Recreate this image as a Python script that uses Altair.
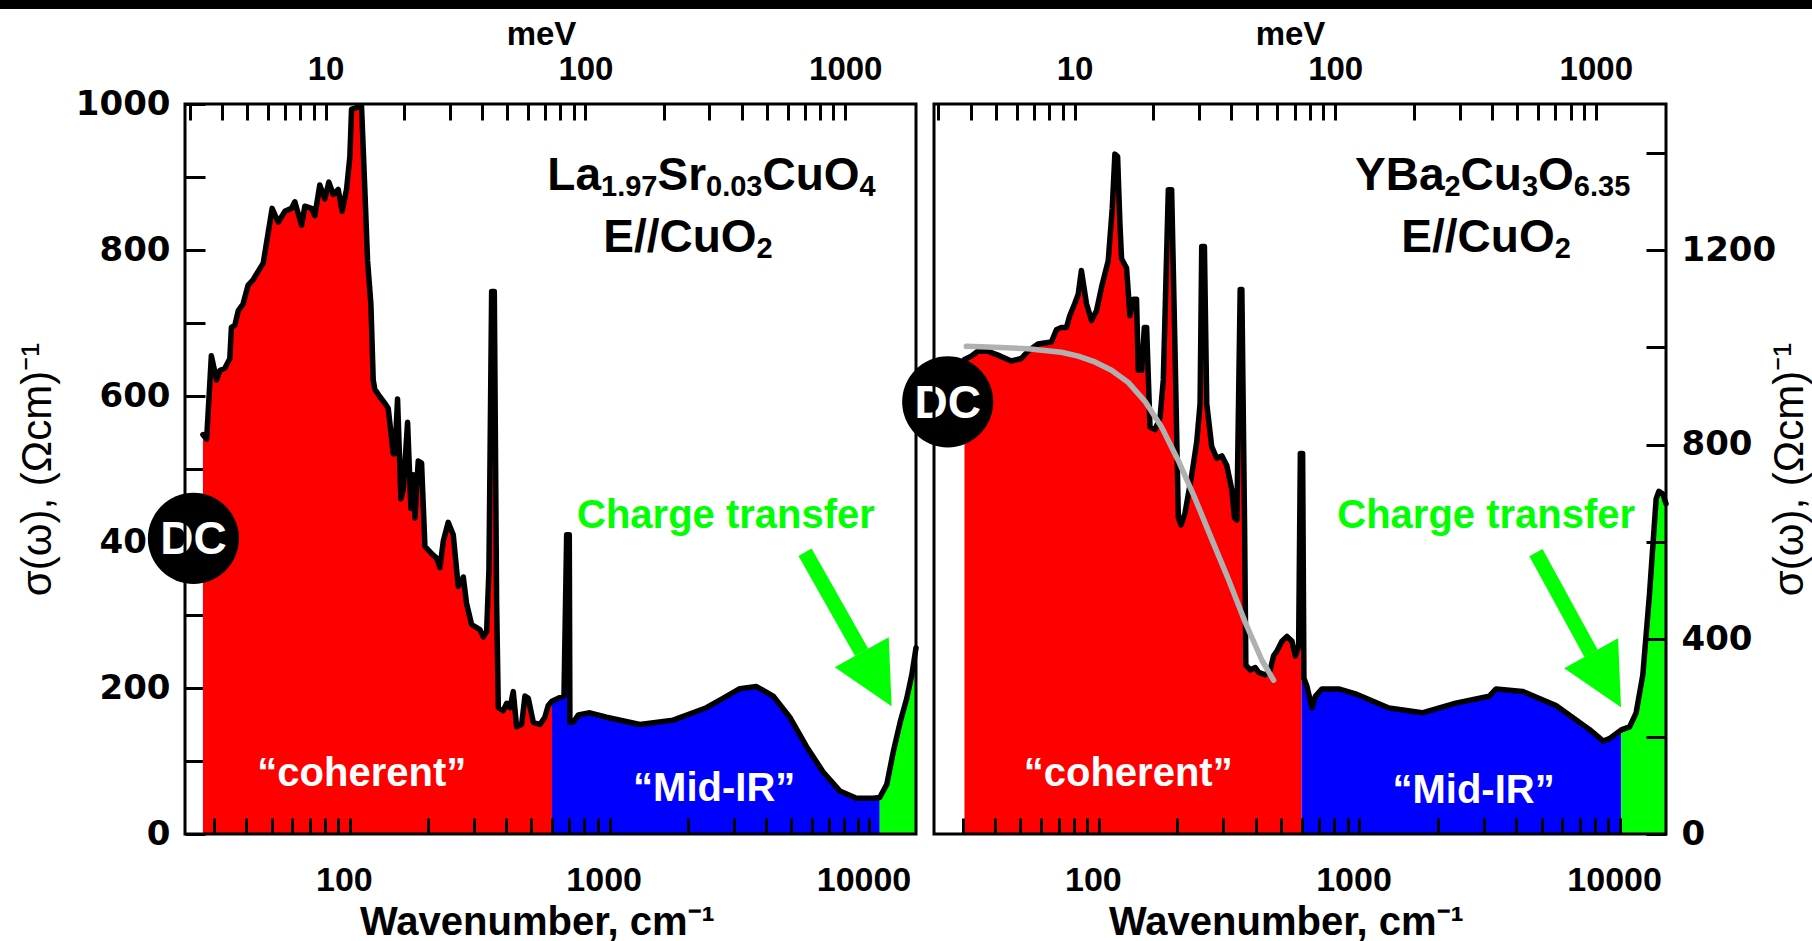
import altair as alt
import pandas as pd

CM_PER_MEV = 8.0655  # 1 meV expressed in cm^-1

# ---- La1.97Sr0.03CuO4 : optical conductivity (wavenumber cm^-1, sigma (Ohm cm)^-1)
lsco_w = [27.2, 28.1, 29.3, 30.7, 31.6, 33.0, 34.5, 35.0, 36.1, 37.2, 38.8, 40.6, 42.4, 43.7,
          46.4, 48.5, 50.2, 53.0, 56.2, 59.6, 61.4, 65.2, 67.1, 71.2, 73.3, 76.6, 80.1, 83.0,
          86.3, 90.2, 93.4, 97.1, 100.0, 101.5, 110.9, 114.2, 117.0, 120.5, 123.0, 124.8, 130.5,
          136.4, 140.5, 146.9, 149.1, 152.6, 157.2, 160.5, 166.8, 171.8, 175.4, 178.0, 183.3,
          188.8, 194.5, 206.3, 215.7, 222.2, 228.8, 239.1, 250.0, 261.3, 273.3, 281.3, 294.1,
          316.7, 326.2, 336.0, 343.0, 351.3, 359.7, 367.2, 372.7, 389.5, 401.2, 413.2, 425.6,
          438.4, 458.2, 472.0, 486.2, 508.2, 539, 563, 580, 600, 643, 667, 683, 699, 703, 724,
          757, 839, 972, 1306, 1755, 2357, 2739, 3168, 3671, 4256, 4933, 5718, 6628, 7683,
          8906, 10323, 10950, 11654, 12367, 13117, 13917, 14546, 15100]
lsco_s = [547, 541, 655, 622, 635, 638, 651, 694, 697, 717, 726, 752, 759, 767,
          782, 824, 857, 838, 853, 857, 866, 834, 860, 857, 847, 889, 870, 893,
          876, 883, 853, 883, 928, 993, 997, 883, 785, 726, 622, 609, 599,
          590, 583, 521, 521, 596, 459, 472, 564, 446, 492, 433, 511,
          508, 394, 384, 378, 365, 401, 427, 410, 339, 352, 316, 287,
          280, 270, 277, 362, 743, 743, 316, 173, 169, 179, 173, 195,
          147, 150, 189, 186, 153, 150, 160, 176, 182, 187, 189, 410, 410, 153, 153,
          163, 166, 160, 150, 156, 173, 186, 199, 202, 189, 160, 120, 85, 59,
          49, 49, 50, 68, 114, 153, 186, 218, 255]

# ---- YBa2Cu3O6.35
ybco_w = [30.5, 32.4, 34.3, 37.5, 41.0, 46.1, 50.4, 53.4, 58.4, 65.7, 68.7, 71.8, 75.1, 77.3,
          80.8, 83.3, 85.7, 89.6, 93.7, 97.9, 102.4, 108.6, 112.5, 115.2, 118.0, 120.4, 122.2,
          127.7, 131.6, 135.5, 139.5, 141.6, 145.9, 149.4, 152.5, 157.1, 164.2, 171.6, 176.7,
          184.7, 190.2, 196.0, 201.8, 206.7, 214.1, 227.2, 237.4, 244.5, 248.1, 254.1, 259.4,
          271, 283.5, 296.3, 309.7, 323.6, 331.4, 338.3, 348.5, 353.7, 362.2, 366.4, 380.7,
          398.1, 410.1, 434.9, 454.6, 468.1, 482.2, 504.0, 526.9, 550.7, 567.4, 584.1, 593,
          600, 605, 612, 629, 657, 677, 718, 832, 965, 1296, 1741, 2340, 3143, 3342, 4222,
          5674, 7620, 8619, 9096, 10100, 10870, 11520, 12220, 12965, 13750, 14080, 14580, 15000]
ybco_s = [975, 982, 992, 992, 984, 972, 977, 992, 1007, 1011, 1036, 1041, 1041, 1065,
          1090, 1109, 1158, 1090, 1055, 1075, 1124, 1178, 1285, 1397, 1392, 1256, 1182,
          1163, 1065, 1099, 1099, 953, 953, 1041, 1041, 836, 831, 855, 933,
          1324, 1324, 992, 650, 635, 660, 738, 806, 884, 1207, 1207, 884,
          796, 772, 777, 757, 708, 650, 645, 1119, 1119, 640, 347, 337,
          342, 332, 327, 337, 366, 376, 396, 406, 396, 366, 386, 782,
          782, 782, 320, 303, 259, 283, 298, 298, 288, 259, 249, 269, 283, 298, 293,
          264, 215, 191, 196, 214, 220, 249, 327, 493, 689, 704, 699, 679]

# Drude curve drawn through the low-frequency YBCO response
drude_w = [31, 39.8, 53.4, 71.8, 83.3, 96.5, 111.8, 129.6, 150.3, 174.1, 201.8, 234, 271,
           314.3, 364.4, 422.2, 468]
drude_s = [1002, 1000, 997, 990, 982, 970, 953, 928, 889, 836, 767, 689, 606,
           523, 435, 357, 316]

# Spectral ranges: coherent | mid-IR | charge transfer
lsco_edges = [600, 10950]
ybco_edges = [600, 10100]

# Tick values
x_ticks = [30, 40, 50, 60, 70, 80, 90, 100, 200, 300, 400, 500, 600, 700, 800, 900,
           1000, 2000, 3000, 4000, 5000, 6000, 7000, 8000, 9000, 10000]
mev_ticks = [3, 4, 5, 6, 7, 8, 9, 10, 20, 30, 40, 50, 60, 70, 80, 90,
             100, 200, 300, 400, 500, 600, 700, 800, 900, 1000]

RED, BLUE, GREEN = "#ff0000", "#0000ff", "#00ff00"
BOLD = "Liberation Sans"
YLAB = "DejaVu Sans"

# Arial/Liberation Sans Bold advance widths (em/1000) for the formula glyphs
ADV = {"L": 611, "a": 556, "S": 667, "r": 389, "C": 722, "u": 611, "O": 778, "Y": 667,
       "B": 722, "E": 667, "/": 278, ".": 278}
for d in "0123456789":
    ADV[d] = 556


def text_width(s, size):
    return sum(ADV[c] for c in s) * size / 1000.0


def formula(pieces, w, s, big=46, small=29, sub_dy=6):
    """Chemical formula with subscripts, centred on (w, s) at the baseline."""
    total = sum(text_width(t, small if sub else big) for t, sub in pieces)
    x = -total / 2.0
    point = pd.DataFrame({"w": [w], "s": [s]})
    layers = []
    for t, sub in pieces:
        size = small if sub else big
        layers.append(
            alt.Chart(point).mark_text(
                text=t, font=BOLD, fontWeight="bold", fontSize=size, color="black",
                align="left", baseline="alphabetic", dx=x, dy=sub_dy if sub else 0
            ).encode(x="w:Q", y="s:Q")
        )
        x += text_width(t, size)
    return layers


def panel(w, s, edges, xdom, ydom, width, height, side, extras, y_ticks, y_label_step,
          dc, titles, arrow, labels, drude=None):
    df = pd.DataFrame({"w": w, "s": s})
    red = df[df.w <= edges[0]]
    blue = df[(df.w >= edges[0]) & (df.w <= edges[1])]
    green = df[df.w >= edges[1]]

    xscale = alt.Scale(type="log", domain=xdom, nice=False)
    yscale = alt.Scale(domain=ydom, nice=False)

    xaxis = alt.Axis(
        orient="bottom", values=x_ticks, offset=-16, tickSize=16, tickWidth=3,
        tickColor="black", domain=False, grid=False, labelOverlap=False, labelFlush=False,
        labelExpr="(datum.value == 100 || datum.value == 1000 || datum.value == 10000) ? format(datum.value, 'd') : ''",
        labelFont=BOLD, labelFontSize=34, labelFontWeight="bold", labelColor="black",
        labelBaseline="alphabetic", labelPadding=56, labelOffset=-6,
        title="Wavenumber, cm\u207b\u00b9", titleFont=BOLD, titleFontSize=40,
        titleFontWeight="bold", titleColor="black", titleX=352, titleY=116,
        titleBaseline="alphabetic", titleAlign="center", zindex=1,
    )
    yaxis = alt.Axis(
        orient=side, values=y_ticks, offset=-20, tickSize=20, tickWidth=3, tickColor="black",
        domain=False, grid=False, format="d", labelOverlap=False, labelFlush=False,
        labelExpr=f"datum.value % {y_label_step} == 0 ? datum.label : ''",
        labelFont=YLAB, labelFontSize=34, labelFontWeight="bold", labelColor="black",
        labelPadding=15,
        title="\u03c3(\u03c9), (\u03a9cm)\u207b\u00b9", titleFont=BOLD, titleFontSize=42,
        titleFontWeight="normal", titleColor="black", titleAngle=270,
        titleX=-168 if side == "left" else 143, titleY=height / 2,
        titleBaseline="middle", titleAlign="center",
        zindex=0 if side == "left" else 1,
    )

    base_x = alt.X("w:Q")
    base_y = alt.Y("s:Q")

    layers = [
        alt.Chart(red).mark_area(color=RED).encode(
            x=alt.X("w:Q", scale=xscale, axis=xaxis),
            y=alt.Y("s:Q", scale=yscale, axis=yaxis)),
        alt.Chart(blue).mark_area(color=BLUE).encode(x=base_x, y=base_y),
        alt.Chart(green).mark_area(color=GREEN).encode(x=base_x, y=base_y),
        alt.Chart(df).mark_line(color="black", strokeWidth=5.5, strokeJoin="round",
                                strokeCap="round").encode(x=base_x, y=base_y),
    ]
    if drude is not None:
        layers.append(
            alt.Chart(pd.DataFrame({"w": drude[0], "s": drude[1]})).mark_line(
                color="#b0b0b0", strokeWidth=5.5, strokeCap="round", strokeJoin="round"
            ).encode(x=base_x, y=base_y))

    # green arrow pointing at the charge-transfer edge
    (w0, s0), (w1, s1), (wh, sh), ang = arrow
    layers.append(
        alt.Chart(pd.DataFrame({"w": [w0], "s": [s0], "w2": [w1], "s2": [s1]}))
        .mark_rule(color=GREEN, strokeWidth=15, strokeCap="butt")
        .encode(x=base_x, y=base_y, x2="w2:Q", y2="s2:Q"))
    layers.append(
        alt.Chart(pd.DataFrame({"w": [wh], "s": [sh]}))
        .mark_point(shape="M0,-1L1,1L-1,1Z", size=3800, filled=True, color=GREEN,
                    opacity=1, strokeWidth=0, angle=ang)
        .encode(x=base_x, y=base_y))

    # region labels
    for txt, (lw, ls), col in labels:
        layers.append(
            alt.Chart(pd.DataFrame({"w": [lw], "s": [ls]})).mark_text(
                text=txt, font=BOLD, fontWeight="bold", fontSize=40, color=col,
                align="center", baseline="alphabetic"
            ).encode(x=base_x, y=base_y))

    # sample name and field orientation
    for pieces, (tw, ts) in titles:
        for lay in formula(pieces, tw, ts):
            layers.append(lay.encode(x=base_x, y=base_y))

    # DC conductivity marker
    dcdf = pd.DataFrame({"w": [dc[0]], "s": [dc[1]]})
    layers.append(alt.Chart(dcdf).mark_point(shape="circle", size=8300, filled=True,
                                             color="black", opacity=1)
                  .encode(x=base_x, y=base_y))
    layers.append(alt.Chart(dcdf).mark_text(text="DC", font=BOLD, fontWeight="bold",
                                            fontSize=46, color="white", baseline="middle",
                                            dy=2)
                  .encode(x=base_x, y=base_y))

    # plot frame
    one = pd.DataFrame({"k": [0]})
    layers.append(alt.Chart(one).mark_rect(fillOpacity=0, stroke="black", strokeWidth=3)
                  .encode(x=alt.value(0), x2=alt.value(width), y=alt.value(0),
                          y2=alt.value(height)))
    layers.extend(extras)

    data_layer = alt.layer(*layers)

    mev_axis = alt.Axis(
        orient="top", values=mev_ticks, offset=-16, tickSize=16, tickWidth=3,
        tickColor="black", domain=False, grid=False, labelOverlap=False, labelFlush=False,
        labelExpr="(datum.value == 10 || datum.value == 100 || datum.value == 1000) ? format(datum.value, 'd') : ''",
        labelFont=BOLD, labelFontSize=33, labelFontWeight="bold", labelColor="black",
        labelBaseline="alphabetic", labelPadding=25,
        title="meV", titleFont=BOLD, titleFontSize=33, titleFontWeight="bold",
        titleColor="black", titleX=356, titleY=-76, titleBaseline="alphabetic",
        titleAlign="center", zindex=1,
    )
    mev_dom = [xdom[0] / CM_PER_MEV, xdom[1] / CM_PER_MEV]
    mev_layer = alt.Chart(pd.DataFrame({"mev": mev_dom})).mark_point(opacity=0).encode(
        x=alt.X("mev:Q", scale=alt.Scale(type="log", nice=False, domain=mev_dom),
                axis=mev_axis))

    return alt.layer(data_layer, mev_layer).resolve_scale(x="independent") \
        .properties(width=width, height=height)


# dark strip across the top of the figure
top_bar = alt.Chart(pd.DataFrame({"k": [0]})).mark_rect(color="black").encode(
    x=alt.value(-185), x2=alt.value(1627), y=alt.value(-104), y2=alt.value(-95))

left = panel(
    lsco_w, lsco_s, lsco_edges, [23.2, 15100], [0, 1000], 731, 730, "left", [top_bar],
    list(range(0, 1001, 100)), 200, dc=(25.0, 405),
    titles=[
        ([("La", 0), ("1.97", 1), ("Sr", 0), ("0.03", 1), ("CuO", 0), ("4", 1)], (2466, 882)),
        ([("E//CuO", 0), ("2", 1)], (2002, 797)),
    ],
    arrow=((5649, 386), (9324, 249), (10659, 212), 151),
    labels=[("\u201ccoherent\u201d", (111.2, 66), "white"),
            ("\u201cMid-IR\u201d", (2525, 45), "white"),
            ("Charge transfer", (2803, 419), GREEN)],
)

right = panel(
    ybco_w, ybco_s, ybco_edges, [23.3, 15000], [0, 1500], 732, 730, "right", [],
    list(range(0, 1401, 200)), 400, dc=(26.3, 888),
    titles=[
        ([("YBa", 0), ("2", 1), ("Cu", 0), ("3", 1), ("O", 0), ("6.35", 1)], (3242, 1323)),
        ([("E//CuO", 0), ("2", 1)], (3061, 1196)),
    ],
    arrow=((4753, 578), (7734, 371), (8835, 316), 151),
    labels=[("\u201ccoherent\u201d", (129.6, 99), "white"),
            ("\u201cMid-IR\u201d", (2739, 64), "white"),
            ("Charge transfer", (3063, 629), GREEN)],
    drude=(drude_w, drude_s),
)

chart = alt.hconcat(left, right, spacing=18, bounds="flush").properties(
    padding=0, background="white"
).configure_view(stroke=None)

chart.save("out.html", embed_options={"renderer": "svg", "actions": False})
